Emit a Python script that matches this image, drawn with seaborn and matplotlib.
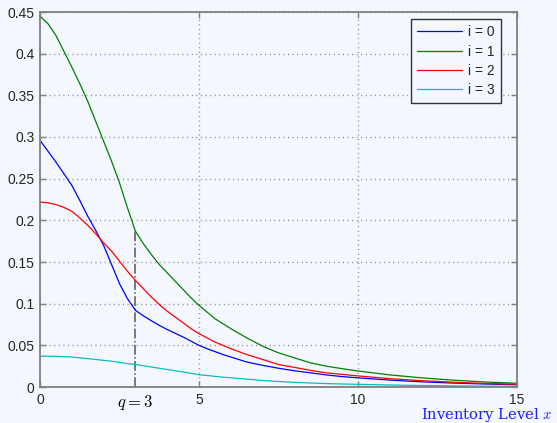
import numpy as np
import pandas as pd
import matplotlib
matplotlib.use('Agg')
import matplotlib.pyplot as plt
import seaborn as sns

# inventory level grid and curves
inventory = [0, 0.25, 0.5, 0.75, 1, 1.25, 1.5, 1.75, 2, 2.25, 2.5, 2.75, 3,
             3.25, 3.5, 3.75, 4, 4.25, 4.5, 4.75, 5, 5.25, 5.5, 5.75, 6,
             6.5, 7, 7.5, 8, 8.5, 9, 9.5, 10,
             11, 12, 13, 14, 15]
p_i0 = [0.296, 0.283, 0.270, 0.256, 0.242, 0.224, 0.205, 0.188, 0.170, 0.147, 0.124, 0.106, 0.092,
        0.0855, 0.0795, 0.074, 0.069, 0.0645, 0.060, 0.055, 0.050, 0.046, 0.0425, 0.039, 0.036,
        0.030, 0.026, 0.0225, 0.0195, 0.017, 0.0145, 0.0125, 0.011,
        0.0083, 0.0062, 0.0047, 0.0036, 0.0027]
p_i1 = [0.445, 0.436, 0.422, 0.403, 0.384, 0.364, 0.343, 0.319, 0.295, 0.271, 0.245, 0.215, 0.187,
        0.172, 0.159, 0.147, 0.137, 0.127, 0.117, 0.107, 0.098, 0.090, 0.082, 0.076, 0.070,
        0.059, 0.049, 0.041, 0.035, 0.029, 0.025, 0.022, 0.0192,
        0.0145, 0.011, 0.0082, 0.006, 0.0045]
p_i2 = [0.222, 0.221, 0.219, 0.2155, 0.211, 0.203, 0.194, 0.184, 0.173, 0.163, 0.151, 0.139, 0.128,
        0.118, 0.108, 0.099, 0.091, 0.084, 0.077, 0.070, 0.064, 0.059, 0.054, 0.050, 0.046,
        0.039, 0.033, 0.027, 0.0235, 0.020, 0.017, 0.0152, 0.0133,
        0.010, 0.0076, 0.0057, 0.0043, 0.0033]
p_i3 = [0.037, 0.037, 0.0368, 0.0364, 0.036, 0.035, 0.034, 0.033, 0.032, 0.031, 0.0295, 0.028, 0.027,
        0.0255, 0.024, 0.0225, 0.021, 0.0195, 0.018, 0.0164, 0.0148, 0.0138, 0.0128, 0.0118, 0.011,
        0.0095, 0.0078, 0.0066, 0.0056, 0.0048, 0.0041, 0.0036, 0.0032,
        0.0024, 0.0018, 0.0013, 0.001, 0.0007]
series_labels = ['i = 0', 'i = 1', 'i = 2', 'i = 3']
q = 3

x_ticks = [0, 3, 5, 10, 15]
x_tick_labels = ['0', r'$q = \mathbf{3}$', '5', '10', '15']
y_ticks = [0, 0.05, 0.1, 0.15, 0.2, 0.25, 0.3, 0.35, 0.4, 0.45]
y_tick_labels = ['0', '0.05', '0.1', '0.15', '0.2', '0.25', '0.3', '0.35', '0.4', '0.45']

bg = '#F4F8FE'
sns.set_style('ticks')
plt.rcParams['font.family'] = ['Liberation Sans', 'DejaVu Sans']
plt.rcParams['mathtext.fontset'] = 'cm'

df = pd.DataFrame({
    'x': inventory * 4,
    'p': p_i0 + p_i1 + p_i2 + p_i3,
    'series': np.repeat(series_labels, len(inventory)),
})
palette = {'i = 0': '#0000FF', 'i = 1': '#008000', 'i = 2': '#FF0000', 'i = 3': '#00BFBF'}

fig = plt.figure(figsize=(5.57, 4.23), dpi=100, facecolor=bg)
ax = fig.add_axes([40 / 557, 1 - 387 / 423, 477 / 557, 375 / 423])
ax.set_facecolor(bg)

sns.lineplot(data=df, x='x', y='p', hue='series', palette=palette, ax=ax,
             linewidth=0.9, legend=True)

# dash-dot marker at the order point q
green_at_q = p_i1[inventory.index(q)]
ax.vlines(q, 0, green_at_q, colors='#555555', linestyles='-.', linewidth=1.1, zorder=1)

ax.set_xlim(0, 15)
ax.set_ylim(0, 0.45)
ax.set_xticks(x_ticks)
ax.set_xticklabels(x_tick_labels)
ax.set_yticks(y_ticks)
ax.set_yticklabels(y_tick_labels)
ax.set_xlabel('')
ax.set_ylabel('')

ax.tick_params(direction='in', length=4, width=1, color='#808080', labelcolor='#262626',
               labelsize=10, top=True, right=True, pad=4)
for sp in ax.spines.values():
    sp.set_visible(True)
    sp.set_color('#808080')
    sp.set_linewidth(1.3)

ax.grid(True, linestyle=(0, (0.7, 2.6)), color='#808080', linewidth=1.0)
ax.get_xgridlines()[1].set_visible(False)
ax.get_xgridlines()[0].set_visible(False)
ax.get_xgridlines()[-1].set_visible(False)
t3 = ax.xaxis.get_major_ticks()[1]
t3.tick1line.set_visible(False)
t3.tick2line.set_visible(False)
t3.label1.set_fontsize(12)
t3.label1.set_color('black')

leg = ax.legend(loc='upper right', bbox_to_anchor=((501 - 40) / 477, (387 - 19) / 375),
                borderaxespad=0, frameon=True, fancybox=False, fontsize=10,
                handlelength=3.2, handletextpad=0.45, labelspacing=0.38,
                borderpad=0.45, title=None)
leg.get_frame().set_edgecolor('#333333')
leg.get_frame().set_facecolor(bg)
leg.get_frame().set_alpha(1)
leg.get_frame().set_linewidth(1.0)

fig.text(421 / 557, 4 / 423, r'Inventory Level $x$', color='#1E1EFF',
         family='DejaVu Serif', fontsize=10.6, ha='left', va='baseline')

fig.savefig('out.png', dpi=100, facecolor=bg)
